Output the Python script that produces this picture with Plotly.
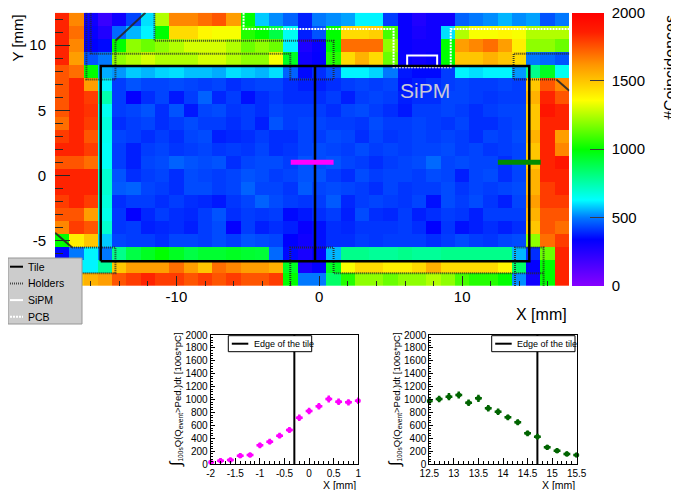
import plotly.graph_objects as go

# The page body has an 8 px margin, so the figure is drawn 8 px in from the window's corner.
OFF = 8
W, H = 679 - OFF, 490 - OFF
def PX(x): return (x - OFF) / W
def PY(y): return 1 - (y - OFF) / H

# ---------------- heatmap data (1 mm bins) ----------------
x_centers = list(range(-18, 18))          # 36 columns, -18 .. 17
y_rows = list(range(12, -9, -1))          # 21 rows, top (12) .. bottom (-8)

r_p12 = [1850,1650,300,200,300,430,600,1250,1650,1650,1700,1750,1600,1000,580,520,470,380,
         500,520,540,620,620,420,320,260,300,300,470,500,520,560,520,540,450,500]
r_p11 = [1850,1700,320,260,480,560,620,1000,1450,1450,1380,1350,1350,1050,1000,900,650,380,
         450,1000,1450,1450,1480,1100,320,280,300,600,1250,1350,1350,1380,1350,1250,1250,1250]
r_p10 = [1850,1650,340,350,1000,1200,1150,1200,1250,1300,1300,1300,1250,1150,1200,1150,620,270,
         320,1000,1700,1700,1700,1200,320,300,300,1000,1600,1650,1700,1600,1400,1200,1200,1150]
r_p09 = [1850,1600,450,500,1200,1250,1300,1250,1250,1250,1300,1300,1250,1200,1200,1350,950,300,
         330,1050,1450,1550,1450,1150,320,300,320,1000,1500,1500,1550,1500,1450,500,480,450]
r_p08 = [1750,1700,1000,550,530,580,560,590,600,570,570,550,600,580,560,600,470,350,
         400,450,620,620,590,500,370,350,350,420,620,600,620,620,530,800,950,650]
r_p07 = [1750,1850,1600,620,420,450,430,430,440,430,420,430,400,420,430,430,400,380,
         380,400,420,430,420,430,360,380,400,420,430,420,420,430,420,1500,1750,1650]
r_p06 = [1750,1850,1800,750,420,330,400,430,370,420,470,390,420,360,400,420,400,400,
         400,420,380,420,430,420,380,400,400,430,430,420,410,420,420,1550,1850,1750]
r_p05 = [1750,1850,1820,650,420,430,450,400,450,370,430,440,410,420,400,430,420,420,
         420,400,430,440,420,400,370,420,420,430,420,400,420,430,430,1500,1900,1850]
r_p04 = [1700,1850,1800,680,400,420,430,400,420,440,420,420,400,420,380,450,420,430,
         430,420,420,410,440,420,420,430,420,410,430,400,400,420,430,1500,1850,1850]
r_p03 = [1800,1850,1750,650,430,420,400,420,400,430,440,380,390,400,420,400,400,430,
         420,440,430,400,430,410,420,430,420,430,420,400,430,420,440,1550,1850,1600]
r_p02 = [1850,1850,1800,640,420,380,420,430,410,420,430,410,420,410,430,400,410,430,
         440,430,420,440,420,430,420,430,430,440,420,430,410,420,430,1500,1850,1650]
r_p01 = [1750,1750,1700,640,420,380,430,440,470,450,440,450,400,430,440,440,420,450,
         440,450,430,420,400,420,430,440,480,430,440,430,430,400,430,1500,1850,1900]
r_000 = [1850,1850,1850,700,450,400,420,430,400,440,430,420,430,450,440,420,430,450,
         450,420,400,440,420,430,430,420,440,430,380,430,440,400,430,1550,1850,1850]
r_m01 = [1850,1850,1850,700,460,470,430,420,400,440,440,420,430,470,430,430,410,460,
         430,440,430,420,400,430,410,420,420,440,410,430,420,430,440,1550,1800,1850]
r_m02 = [1800,1850,1800,680,400,420,420,400,420,400,390,370,410,430,470,440,420,410,
         420,460,390,420,430,420,410,430,360,440,420,440,410,380,430,1600,1800,1800]
r_m03 = [1750,1750,1600,660,410,330,390,420,400,390,420,450,400,420,410,420,350,370,
         400,420,380,440,400,390,420,380,400,420,410,380,420,420,420,1550,1750,1750]
r_m04 = [1650,1800,1750,700,410,420,380,390,400,380,420,440,330,420,380,400,380,320,
         360,400,390,410,410,410,420,400,340,410,360,380,400,380,400,1500,1750,1700]
r_m05 = [1000,1400,1500,580,430,420,420,400,430,430,420,440,420,450,440,430,340,300,
         360,400,400,420,410,420,420,420,400,420,440,420,410,430,440,1200,1700,1800]
r_m06 = [350,500,620,500,800,900,950,1000,950,900,930,930,950,930,920,480,350,280,
         330,560,800,800,780,780,800,780,780,800,800,800,800,800,560,400,1150,1850]
r_m07 = [500,620,620,780,1500,1600,1600,1600,1700,1600,1500,1700,1650,1600,1600,1550,950,280,
         330,950,1350,1450,1450,1400,1400,1450,1550,1450,1450,1450,1450,1380,850,330,1000,1850]
r_m08 = [1500,1500,1550,1600,1750,1800,1850,1800,1800,1750,1800,1750,1800,1750,1750,1800,1000,500,
         500,850,1050,1200,1200,1150,1200,1200,1250,1200,1100,1050,1050,1000,520,300,1000,1850]

rows_top_to_bottom = [r_p12, r_p11, r_p10, r_p09, r_p08, r_p07, r_p06, r_p05, r_p04, r_p03, r_p02,
                      r_p01, r_000, r_m01, r_m02, r_m03, r_m04, r_m05, r_m06, r_m07, r_m08]

# ---------------- geometry overlays (mm) ----------------
tile_x = [-15.3, -0.3, 14.7]      # left edge, edge between tiles, right edge
tile_y = [-6.6, 8.4]

holder_a_x = [-16.3, -16.3, -14.27, -14.27]
holder_a_y = [12.5, 7.37, 7.37, 10.34]
holder_b_x = [-16.0, -16.0, -2.03, -2.03, 1.0, 1.0, -11.54, -11.54]
holder_b_y = [12.5, 9.35, 9.35, 7.37, 7.37, 10.34, 10.34, 12.5]
holder_c_x = [-17.3, -14.27, -14.27, -18.5]
holder_c_y = [-5.55, -5.55, -7.52, -7.52]
holder_d_x = [-2.03, -2.03, 1.0, 1.0, 15.7]
holder_d_y = [-8.5, -5.55, -5.55, -7.52, -7.52]
holder_e_x = [13.7, 13.7, 15.7, 15.7]
holder_e_y = [-8.5, -5.55, -5.55, -8.5]
holder_f_x = [17.5, 13.6, 13.6, 16.6]
holder_f_y = [9.35, 9.35, 7.37, 7.37]
diag1_x, diag1_y = [-14.27, -12.17], [10.34, 12.5]
diag2_x, diag2_y = [-18.5, -17.3], [-4.4, -5.55]
diag3_x, diag3_y = [16.6, 17.5], [7.37, 6.5]

pcb_x = [-5.3, -5.3, 5.2, 5.2, 9.2, 9.2, 17.5]
pcb_y = [12.5, 11.25, 11.25, 8.3, 8.3, 11.25, 11.25]
sipm_x = [6.15, 8.25]
sipm_y = [8.38, 9.22]
sipm_label_pos = (7.4, 6.55)

scan_y = 1.0
scan_left_x = [-2.0, 1.0]
scan_right_x = [12.5, 15.5]

# ---------------- scan profiles ----------------
left_x = [-2.0, -1.8, -1.6, -1.4, -1.2, -1.0, -0.8, -0.6, -0.4, -0.2, 0.0, 0.2, 0.4, 0.6, 0.8, 1.0]
left_q = [30, 56, 66, 133, 144, 294, 350, 443, 531, 721, 824, 897, 1010, 968, 958, 984]
left_err = [40, 40, 40, 40, 40, 45, 45, 45, 45, 50, 50, 50, 55, 50, 50, 50]
right_x = [12.5, 12.7, 12.9, 13.1, 13.3, 13.5, 13.7, 13.9, 14.1, 14.3, 14.5, 14.7, 14.9, 15.1, 15.3, 15.5]
right_q = [979, 1010, 1046, 1072, 953, 1020, 866, 814, 727, 650, 479, 427, 263, 211, 160, 144]
right_err = [50, 50, 55, 55, 50, 55, 50, 50, 45, 45, 45, 45, 40, 40, 40, 40]

x_ticks_main = [-10, 0, 10]
y_ticks_main = [-5, 0, 5, 10]
cb_ticks = [0, 500, 1000, 1500, 2000]
left_xticks = [-2, -1.5, -1, -0.5, 0, 0.5, 1]
right_xticks = [12.5, 13, 13.5, 14, 14.5, 15, 15.5]
q_ticks = list(range(0, 2001, 200))

FONT = "Liberation Sans, Arial, Helvetica, sans-serif"

def lbl(v):
    return "%g" % v

colorscale = [
    [0.0, "rgb(135,0,255)"],
    [0.17, "rgb(0,0,255)"],
    [0.25, "rgb(0,120,255)"],
    [0.315, "rgb(0,255,255)"],
    [0.5, "rgb(0,255,0)"],
    [0.68, "rgb(255,255,0)"],
    [0.81, "rgb(255,150,0)"],
    [0.93, "rgb(255,30,0)"],
    [1.0, "rgb(255,0,0)"],
]

fig = go.Figure()

fig.add_trace(go.Heatmap(
    x=x_centers, y=y_rows[::-1], z=rows_top_to_bottom[::-1],
    zmin=0, zmax=2000, colorscale=colorscale, xaxis="x", yaxis="y",
    colorbar=dict(
        x=PX(572), xanchor="left", y=PY(12.7), yanchor="top",
        len=(286 - 12.7) / H, lenmode="fraction", thickness=32, thicknessmode="pixels",
        tickvals=cb_ticks, ticktext=["\u00a0" + lbl(v) for v in cb_ticks], ticks="inside", ticklen=14,
        tickcolor="rgb(60,60,60)", tickfont=dict(size=15, family=FONT, color="black"),
        ticklabeloverflow="allow", outlinewidth=0, xpad=0, ypad=0,
    ),
))

HOLD = dict(color="rgba(40,40,40,0.9)", width=2, dash="1px,1px")
DIAG = dict(color="rgba(40,40,40,0.9)", width=2)
PCB = dict(color="white", width=2, dash="2px,1px")

def line(xs, ys, style, xa="x", ya="y"):
    fig.add_trace(go.Scatter(x=xs, y=ys, mode="lines", line=style, xaxis=xa, yaxis=ya,
                             showlegend=False, hoverinfo="skip"))

for hx, hy in [(holder_a_x, holder_a_y), (holder_b_x, holder_b_y), (holder_c_x, holder_c_y),
               (holder_d_x, holder_d_y), (holder_e_x, holder_e_y), (holder_f_x, holder_f_y)]:
    line(hx, hy, HOLD)
for dx, dy in [(diag1_x, diag1_y), (diag2_x, diag2_y), (diag3_x, diag3_y)]:
    line(dx, dy, DIAG)
line(pcb_x, pcb_y, PCB)
line([sipm_x[0], sipm_x[1], sipm_x[1], sipm_x[0], sipm_x[0]],
     [sipm_y[0], sipm_y[0], sipm_y[1], sipm_y[1], sipm_y[0]], dict(color="white", width=2))
line([tile_x[0], tile_x[2], tile_x[2], tile_x[0], tile_x[0]],
     [tile_y[0], tile_y[0], tile_y[1], tile_y[1], tile_y[0]], dict(color="black", width=2.5))
line([tile_x[1], tile_x[1]], tile_y, dict(color="black", width=2.5))
line(scan_left_x, [scan_y, scan_y], dict(color="#ff00ff", width=5))
line(scan_right_x, [scan_y, scan_y], dict(color="#008c00", width=5))

def profile(xs, qs, errs, color, xa, ya, edge):
    fig.add_trace(go.Scatter(
        x=[edge, edge], y=[0, 2000], mode="lines", line=dict(color="black", width=2),
        xaxis=xa, yaxis=ya, showlegend=False, hoverinfo="skip"))
    fig.add_trace(go.Scatter(
        x=xs, y=qs, mode="markers", xaxis=xa, yaxis=ya, showlegend=False,
        marker=dict(color=color, size=5, symbol="circle"),
        error_y=dict(type="data", array=errs, color=color, thickness=2.5, width=0),
        error_x=dict(type="constant", value=0.07, color=color, thickness=2.5, width=0),
        cliponaxis=False))

profile(left_x, left_q, left_err, "#ff00ff", "x2", "y2", tile_x[1])
profile(right_x, right_q, right_err, "#006400", "x3", "y3", tile_x[2])

main_ax = dict(showgrid=False, zeroline=False, ticks="inside", tickcolor="rgb(40,40,40)",
               tickfont=dict(size=15, family=FONT, color="black"), showline=False,
               automargin=False)
small_ax = dict(showgrid=False, zeroline=False, ticks="inside", tickcolor="black",
                tickfont=dict(size=10, family=FONT, color="black"), showline=True,
                mirror=True, linecolor="black", linewidth=1, automargin=False)

fig.update_layout(
    template="none",
    width=W, height=H, margin=dict(l=0, r=0, t=0, b=0, autoexpand=False),
    paper_bgcolor="white", plot_bgcolor="white", showlegend=False,
    font=dict(family=FONT, color="black"),
    xaxis=dict(main_ax, domain=[PX(55), PX(569.3)], range=[-18.5, 17.5], anchor="y",
               tickvals=x_ticks_main, ticktext=[lbl(v) for v in x_ticks_main], ticklen=10,
               minor=dict(dtick=2, ticklen=5, ticks="inside", tickcolor="rgb(40,40,40)")),
    yaxis=dict(main_ax, domain=[PY(286), PY(12.7)], range=[-8.5, 12.5], anchor="x",
               tickvals=y_ticks_main, ticktext=[lbl(v) for v in y_ticks_main], ticklen=15,
               ticklabelstandoff=8,
               minor=dict(dtick=1, ticklen=8, ticks="inside", tickcolor="rgb(40,40,40)")),
    xaxis2=dict(small_ax, domain=[PX(210.7), PX(358.3)], range=[-2, 1], anchor="y2",
                tickvals=left_xticks, ticktext=[lbl(v) for v in left_xticks], ticklen=6,
                minor=dict(dtick=0.1, ticklen=3, ticks="inside", tickcolor="black")),
    yaxis2=dict(small_ax, domain=[PY(464.3), PY(335)], range=[0, 2000], anchor="x2",
                tickvals=q_ticks, ticktext=[lbl(v) for v in q_ticks], ticklen=4,
                minor=dict(dtick=40, ticklen=2, ticks="inside", tickcolor="black")),
    xaxis3=dict(small_ax, domain=[PX(429.3), PX(576.7)], range=[12.5, 15.5], anchor="y3",
                tickvals=right_xticks, ticktext=[lbl(v) for v in right_xticks], ticklen=6,
                minor=dict(dtick=0.1, ticklen=3, ticks="inside", tickcolor="black")),
    yaxis3=dict(small_ax, domain=[PY(464.3), PY(335)], range=[0, 2000], anchor="x3",
                tickvals=q_ticks, ticktext=[lbl(v) for v in q_ticks], ticklen=4,
                minor=dict(dtick=40, ticklen=2, ticks="inside", tickcolor="black")),
)

ann = []
def A(text, x, y, size, xanchor="center", yanchor="middle", angle=0, color="black", xref="paper", yref="paper"):
    ann.append(dict(text=text, x=x, y=y, xref=xref, yref=yref, showarrow=False,
                    xanchor=xanchor, yanchor=yanchor, textangle=angle,
                    font=dict(size=size, family=FONT, color=color)))

A("SiPM", sipm_label_pos[0], sipm_label_pos[1], 21, color="rgb(200,200,215)", xref="x", yref="y")
A("Y [mm]", PX(16.5), PY(38), 15, angle=-90)
A("X [mm]", PX(569), PY(314), 16, xanchor="right")
A("#Coincidences", PX(670), PY(68), 16, angle=-90)

ytitle = ('<span style="font-size:16px">∫</span><sub>100s</sub>'
          'Q(Q<sub>event</sub>&gt;Ped.)dt [100s*pC]')
A(ytitle, PX(176), PY(400), 9.5, angle=-90)
A(ytitle, PX(395), PY(400), 9.5, angle=-90)
A("X [mm]", PX(358.3), PY(484.5), 10.5, xanchor="right")
A("X [mm]", PX(576.7), PY(484.5), 10.5, xanchor="right")

shapes = []
shapes.append(dict(type="rect", xref="paper", yref="paper", x0=PX(8), x1=PX(82), y0=PY(324), y1=PY(258),
                   fillcolor="rgb(204,204,204)", line=dict(color="rgb(150,150,150)", width=1), layer="above"))
leg_items = [("Tile", dict(color="black", width=2)),
             ("Holders", dict(color="rgb(70,70,70)", width=2, dash="1px,1px")),
             ("SiPM", dict(color="white", width=2)),
             ("PCB", dict(color="white", width=2, dash="2px,1px"))]
for i, (name, st) in enumerate(leg_items):
    yy = 266.7 + i * 16.7
    shapes.append(dict(type="line", xref="paper", yref="paper", x0=PX(10), x1=PX(23), y0=PY(yy), y1=PY(yy),
                       line=st, layer="above"))
    A(name, PX(26), PY(yy), 10.5, xanchor="left")

for (bx0, bx1) in [(228.3, 311.7), (491.7, 575)]:
    shapes.append(dict(type="rect", xref="paper", yref="paper", x0=PX(bx0), x1=PX(bx1), y0=PY(351.7), y1=PY(335.7),
                       fillcolor="white", line=dict(color="black", width=1), layer="above"))
    shapes.append(dict(type="line", xref="paper", yref="paper", x0=PX(bx0 + 3.5), x1=PX(bx0 + 20), y0=PY(343.7),
                       y1=PY(343.7), line=dict(color="black", width=2), layer="above"))
    A("Edge of the tile", PX(bx0 + 23.5), PY(343.7), 9, xanchor="left")

fig.update_layout(annotations=ann, shapes=shapes)
fig.write_html("out.html")
